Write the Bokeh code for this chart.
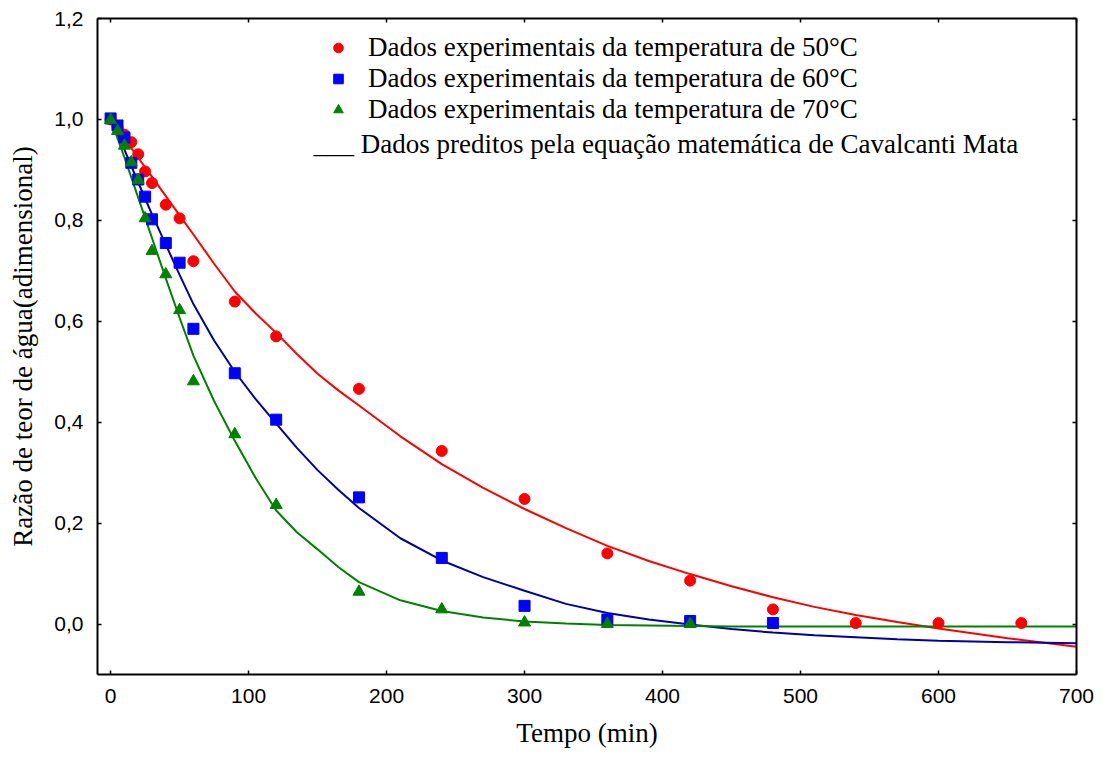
from bokeh.plotting import figure
from bokeh.models import Range1d, LinearAxis, FixedTicker, Legend, LegendItem, Label
from bokeh.embed import file_html
from bokeh.resources import INLINE

# ---------------- data ----------------
t_50 = [0, 5, 10, 15, 20, 25, 30, 40, 50, 60, 90, 120, 180, 240, 300, 360, 420, 480, 540, 600, 660]
mr_50 = [1.0, 0.985, 0.970, 0.955, 0.931, 0.897, 0.874, 0.831, 0.804, 0.719, 0.639, 0.570,
         0.466, 0.343, 0.248, 0.140, 0.086, 0.029, 0.002, 0.002, 0.002]

t_60 = [0, 5, 10, 15, 20, 25, 30, 40, 50, 60, 90, 120, 180, 240, 300, 360, 420, 480]
mr_60 = [1.002, 0.988, 0.964, 0.914, 0.881, 0.847, 0.802, 0.755, 0.716, 0.585, 0.497, 0.405,
         0.251, 0.131, 0.036, 0.009, 0.006, 0.002]

t_70 = [0, 5, 10, 15, 20, 25, 30, 40, 50, 60, 90, 120, 180, 240, 300, 360, 420]
mr_70 = [0.999, 0.977, 0.948, 0.915, 0.880, 0.804, 0.739, 0.693, 0.622, 0.481, 0.376, 0.236,
         0.064, 0.029, 0.003, 0.000, 0.000]

# predicted curves (Cavalcanti Mata model)
t_fit = [0, 10, 20, 30, 40, 50, 60, 75, 90, 105, 120, 135, 150, 165, 180, 210, 240, 270, 300,
         330, 360, 390, 420, 450, 480, 510, 540, 570, 600, 650, 700]
fit_50 = [1.0, 0.962, 0.924, 0.886, 0.848, 0.810, 0.772, 0.714, 0.659, 0.616, 0.577, 0.535,
          0.496, 0.463, 0.433, 0.372, 0.317, 0.270, 0.228, 0.190, 0.155, 0.125, 0.099, 0.075,
          0.053, 0.034, 0.018, 0.004, -0.009, -0.028, -0.045]
fit_60 = [1.0, 0.940, 0.875, 0.812, 0.752, 0.692, 0.634, 0.562, 0.500, 0.446, 0.397, 0.349,
          0.305, 0.266, 0.230, 0.170, 0.126, 0.093, 0.066, 0.040, 0.022, 0.009, -0.001, -0.010,
          -0.017, -0.022, -0.026, -0.030, -0.033, -0.036, -0.038]
fit_70 = [1.0, 0.925, 0.845, 0.765, 0.685, 0.607, 0.532, 0.442, 0.363, 0.290, 0.225, 0.182,
          0.148, 0.113, 0.083, 0.047, 0.026, 0.013, 0.005, 0.001, -0.002, -0.003, -0.004,
          -0.005, -0.005, -0.005, -0.005, -0.005, -0.005, -0.005, -0.005]

x_ticks = [0, 100, 200, 300, 400, 500, 600, 700]
x_tick_labels = ["0", "100", "200", "300", "400", "500", "600", "700"]
y_ticks = [0.0, 0.2, 0.4, 0.6, 0.8, 1.0, 1.2]
y_tick_labels = ["0,0", "0,2", "0,4", "0,6", "0,8", "1,0", "1,2"]

legend_labels = [
    "Dados experimentais da temperatura de 50°C",
    "Dados experimentais da temperatura de 60°C",
    "Dados experimentais da temperatura de 70°C",
]
model_label = "___ Dados preditos pela equação matemática de Cavalcanti Mata"
x_title = "Tempo (min)"
y_title = "Razão de teor de água(adimensional)"

# ---------------- figure ----------------
SERIF = "Liberation Serif"
SANS = "Liberation Sans"

p = figure(width=1106, height=758, x_range=Range1d(-9.5, 700), y_range=Range1d(-0.1, 1.2),
           output_backend="svg", toolbar_location=None,
           min_border_left=97, min_border_right=30, min_border_top=18, min_border_bottom=84)
p.xgrid.grid_line_color = None
p.ygrid.grid_line_color = None
p.outline_line_color = None
p.background_fill_color = "white"
p.border_fill_color = "white"

# curves
p.line(t_fit, fit_50, line_color="#ff0000", line_width=2)
p.line(t_fit, fit_60, line_color="#00009c", line_width=2)
p.line(t_fit, fit_70, line_color="#008000", line_width=2)

# experimental points
r50 = p.scatter(t_50, mr_50, marker="circle", size=11, fill_color="#ff0000", line_color="#ff0000")
r60 = p.scatter(t_60, mr_60, marker="square", size=11, fill_color="#0000ff", line_color="#0000ff")
r70 = p.scatter(t_70, mr_70, marker="triangle", size=12, fill_color="#008000", line_color="#008000")

x_over = dict(zip(x_ticks, x_tick_labels))
y_over = {float(k): v for k, v in zip(y_ticks, y_tick_labels)}


def style_axis(ax, show_labels):
    ax.axis_line_width = 2
    ax.axis_line_color = "black"
    ax.major_tick_in = 4
    ax.major_tick_out = 0
    ax.major_tick_line_width = 1.5
    ax.major_tick_line_color = "black"
    ax.minor_tick_line_color = None
    if show_labels:
        ax.major_label_text_font = SANS
        ax.major_label_text_font_size = "21px"
        ax.major_label_text_color = "black"
        ax.axis_label_text_font = SERIF
        ax.axis_label_text_font_size = "27px"
        ax.axis_label_text_font_style = "normal"
        ax.axis_label_text_color = "black"
    else:
        ax.major_label_text_font_size = "1px"
        ax.major_label_text_color = None
        ax.major_label_standoff = 0
        ax.axis_label = None


xa = p.xaxis[0]
xa.ticker = FixedTicker(ticks=x_ticks)
xa.major_label_overrides = x_over
xa.axis_label = x_title
style_axis(xa, True)
xa.major_label_standoff = 14
xa.axis_label_standoff = 12

ya = p.yaxis[0]
ya.ticker = FixedTicker(ticks=y_ticks)
ya.major_label_overrides = y_over
ya.axis_label = y_title
style_axis(ya, True)
ya.major_label_standoff = 14
ya.axis_label_standoff = 13

top = LinearAxis(ticker=FixedTicker(ticks=x_ticks))
style_axis(top, False)
p.add_layout(top, "above")

right = LinearAxis(ticker=FixedTicker(ticks=y_ticks))
style_axis(right, False)
p.add_layout(right, "right")

# legend
items = [LegendItem(label=lab, renderers=[r]) for lab, r in zip(legend_labels, [r50, r60, r70])]
legend = Legend(items=items, location=(229, 549), padding=0, margin=0, spacing=0,
                glyph_width=24, glyph_height=31, label_height=31, label_standoff=18,
                label_text_font=SERIF, label_text_font_size="27px", label_text_color="black",
                background_fill_alpha=0, border_line_color=None)
p.add_layout(legend)

p.add_layout(Label(x=216, y=531, x_units="screen", y_units="screen", text=model_label,
                   text_font=SERIF, text_font_size="27px", text_color="black",
                   text_baseline="middle"))

open("out.html", "w").write(file_html(p, INLINE))
